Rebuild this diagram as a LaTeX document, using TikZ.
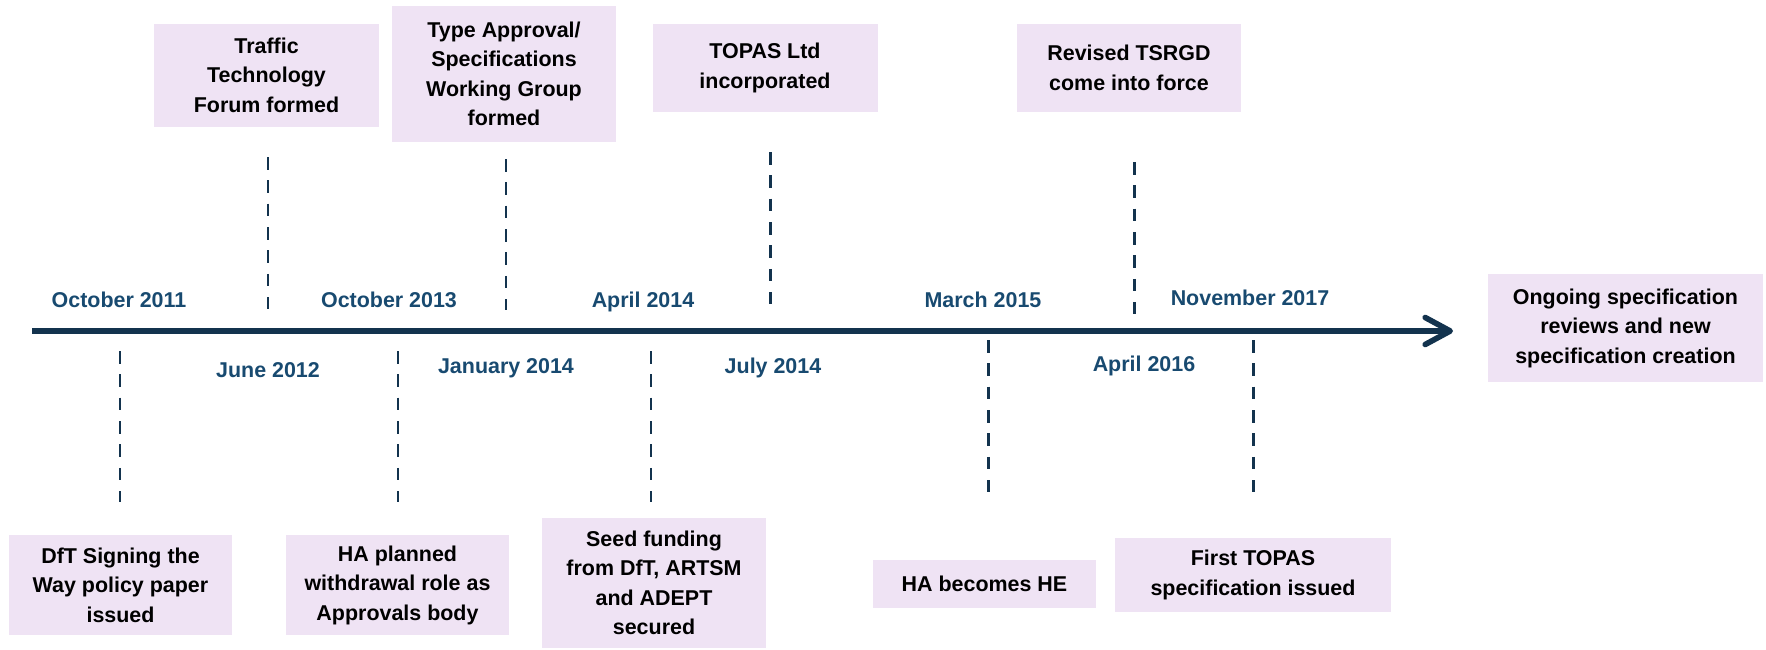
\documentclass[tikz,border=0pt]{standalone}
\usepackage{fontspec}
\setmainfont{Liberation Sans}
\usetikzlibrary{arrows.meta}

\definecolor{boxlilac}{RGB}{239,227,244}
\definecolor{datenavy}{RGB}{24,74,112}
\definecolor{axisnavy}{RGB}{19,51,78}

\tikzset{
	event/.style={fill=boxlilac, align=center, inner sep=0pt, font=\fontsize{12.2}{16.8}\selectfont\bfseries},
	date/.style={text=datenavy, anchor=base, inner sep=0pt, font=\fontsize{12.2}{14}\selectfont\bfseries},
	tick/.style={axisnavy, line width=1.7pt, dash pattern=on 0.25cm off 0.217cm},
}

\begin{document}
\begin{tikzpicture}
	\useasboundingbox (0,-6.36) rectangle (35.32,6.62);

	% time axis
	\coordinate (start) at (0.64,0);
	\coordinate (now) at (29.06,0);
	\draw[axisnavy, line width=3.2pt, -{Straight Barb[length=0.5cm,width=0.54cm,round]}] (start) -- (now);

	% events above the axis
	\node (traffic) at (5.33,5.12) [event,minimum width=4.50cm,minimum height=2.06cm] {Traffic\\Technology\\Forum formed};
	\node (typeappr) at (10.08,5.14) [event,minimum width=4.48cm,minimum height=2.72cm] {Type Approval/\\Specifications\\Working Group\\formed};
	\node (topas) at (15.30,5.26) [event,minimum width=4.50cm,minimum height=1.76cm] {TOPAS Ltd\\incorporated};
	\node (tsrgd) at (22.58,5.26) [event,minimum width=4.48cm,minimum height=1.76cm] {Revised TSRGD\\come into force};
	\node (ongoing) at (32.51,0.06) [event,minimum width=5.50cm,minimum height=2.16cm] {Ongoing specification\\reviews and new\\specification creation};

	% events below the axis
	\node (dft) at (2.41,-5.08) [event,minimum width=4.46cm,minimum height=2.00cm] {DfT Signing the\\Way policy paper\\issued};
	\node (hawithdraw) at (7.95,-5.08) [event,minimum width=4.46cm,minimum height=2.00cm] {HA planned\\withdrawal role as\\Approvals body};
	\node (seed) at (13.08,-5.04) [event,minimum width=4.48cm,minimum height=2.60cm] {Seed funding\\from DfT, ARTSM\\and ADEPT\\secured};
	\node (hahe) at (19.69,-5.06) [event,minimum width=4.46cm,minimum height=0.96cm] {HA becomes HE};
	\node (firstspec) at (25.06,-4.88) [event,minimum width=5.52cm,minimum height=1.48cm] {First TOPAS\\specification issued};

	% dates
	\node (oct11) at (2.38,0.48) [date] {October 2011};
	\node (oct13) at (7.78,0.48) [date] {October 2013};
	\node (apr14) at (12.86,0.48) [date] {April 2014};
	\node (mar15) at (19.66,0.48) [date] {March 2015};
	\node (nov17) at (25.00,0.52) [date] {November 2017};
	\node (jun12) at (5.36,-0.92) [date] {June 2012};
	\node (jan14) at (10.12,-0.84) [date] {January 2014};
	\node (jul14) at (15.46,-0.84) [date] {July 2014};
	\node (apr16) at (22.88,-0.80) [date] {April 2016};

	% dashed markers
	\coordinate (m1a) at (5.36,3.48);   \coordinate (m1b) at (5.36,0.44);
	\coordinate (m2a) at (10.12,3.44);  \coordinate (m2b) at (10.12,0.42);
	\coordinate (m3a) at (15.40,3.58);  \coordinate (m3b) at (15.40,0.54);
	\coordinate (m4a) at (22.68,3.38);  \coordinate (m4b) at (22.68,0.34);
	\coordinate (m5a) at (2.40,-0.40);  \coordinate (m5b) at (2.40,-3.42);
	\coordinate (m6a) at (7.96,-0.40);  \coordinate (m6b) at (7.96,-3.42);
	\coordinate (m7a) at (13.02,-0.40); \coordinate (m7b) at (13.02,-3.42);
	\coordinate (m8a) at (19.76,-0.18); \coordinate (m8b) at (19.76,-3.22);
	\coordinate (m9a) at (25.06,-0.18); \coordinate (m9b) at (25.06,-3.22);
	\draw[tick] (m1a) -- (m1b);
	\draw[tick] (m2a) -- (m2b);
	\draw[tick] (m3a) -- (m3b);
	\draw[tick] (m4a) -- (m4b);
	\draw[tick] (m5a) -- (m5b);
	\draw[tick] (m6a) -- (m6b);
	\draw[tick] (m7a) -- (m7b);
	\draw[tick] (m8a) -- (m8b);
	\draw[tick] (m9a) -- (m9b);
\end{tikzpicture}
\end{document}
